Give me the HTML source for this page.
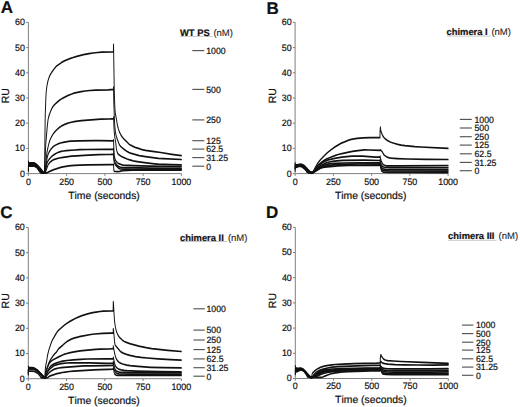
<!DOCTYPE html>
<html><head><meta charset="utf-8"><style>
html,body{margin:0;padding:0;background:#fff;}
svg{display:block;}
text{font-family:"Liberation Sans", sans-serif;fill:#111;stroke:#111;stroke-width:0.2px;text-rendering:geometricPrecision;font-kerning:none;}
.nm{fill:#222;stroke:#222;stroke-width:0.1px;}
</style></head><body>
<svg width="520" height="407" viewBox="0 0 520 407">
<rect width="520" height="407" fill="#fff"/>
<path d="M28.40,22.40 V173.60 H181.40" fill="none" stroke="#808080" stroke-width="1"/>
<line x1="26.10" y1="173.60" x2="28.40" y2="173.60" stroke="#808080" stroke-width="1"/>
<line x1="26.10" y1="148.40" x2="28.40" y2="148.40" stroke="#808080" stroke-width="1"/>
<line x1="26.10" y1="123.20" x2="28.40" y2="123.20" stroke="#808080" stroke-width="1"/>
<line x1="26.10" y1="98.00" x2="28.40" y2="98.00" stroke="#808080" stroke-width="1"/>
<line x1="26.10" y1="72.80" x2="28.40" y2="72.80" stroke="#808080" stroke-width="1"/>
<line x1="26.10" y1="47.60" x2="28.40" y2="47.60" stroke="#808080" stroke-width="1"/>
<line x1="26.10" y1="22.40" x2="28.40" y2="22.40" stroke="#808080" stroke-width="1"/>
<line x1="28.40" y1="173.60" x2="28.40" y2="175.90" stroke="#808080" stroke-width="1"/>
<line x1="66.65" y1="173.60" x2="66.65" y2="175.90" stroke="#808080" stroke-width="1"/>
<line x1="104.90" y1="173.60" x2="104.90" y2="175.90" stroke="#808080" stroke-width="1"/>
<line x1="143.15" y1="173.60" x2="143.15" y2="175.90" stroke="#808080" stroke-width="1"/>
<line x1="181.40" y1="173.60" x2="181.40" y2="175.90" stroke="#808080" stroke-width="1"/>
<line x1="180.00" y1="36.40" x2="213.00" y2="36.40" stroke="#b0b0b0" stroke-width="0.7"/>
<line x1="192.30" y1="50.60" x2="204.30" y2="50.60" stroke="#555" stroke-width="1.15"/>
<line x1="192.30" y1="89.40" x2="204.30" y2="89.40" stroke="#555" stroke-width="1.15"/>
<line x1="192.30" y1="119.90" x2="204.30" y2="119.90" stroke="#555" stroke-width="1.15"/>
<line x1="192.30" y1="140.70" x2="204.30" y2="140.70" stroke="#555" stroke-width="1.15"/>
<line x1="192.30" y1="149.10" x2="204.30" y2="149.10" stroke="#555" stroke-width="1.15"/>
<line x1="192.30" y1="157.60" x2="204.30" y2="157.60" stroke="#555" stroke-width="1.15"/>
<line x1="192.30" y1="166.20" x2="204.30" y2="166.20" stroke="#555" stroke-width="1.15"/>
<g transform="scale(0.55,1)" fill="none" stroke="#111" stroke-width="1.75" stroke-linejoin="round" stroke-linecap="round">
<polyline points="51.64,161.3 52.05,163.0 53.86,162.8 58.73,162.8 61.09,162.9 61.93,162.9 65.13,163.8 68.74,165.6 72.08,167.6 77.65,171.3 79.18,172.5 79.87,172.7 80.57,172.8 80.85,171.1 81.26,163.5 81.82,130.8 82.24,115.6 83.21,100.0 83.77,94.1 84.18,91.3 85.02,87.2 85.85,84.3 87.24,80.9 88.77,78.1 90.30,75.9 92.25,73.9 94.06,72.3 98.51,68.9 101.15,67.0 103.52,65.8 111.45,62.7 115.34,61.4 119.10,60.4 128.14,58.4 133.00,57.5 138.01,56.6 144.97,55.6 151.92,54.7 161.94,53.6 169.03,53.0 177.51,52.5 185.16,52.2 201.30,52.0 206.17,51.9 206.44,44.3 207.70,90.0 208.39,102.1 209.09,109.7 209.64,112.7 210.20,114.9 211.87,119.7 213.26,124.4 214.09,126.5 215.35,129.1 216.88,131.6 218.13,133.2 220.08,135.2 222.58,137.2 225.36,139.1 231.76,142.6 234.82,144.2 237.60,145.2 241.08,146.2 245.67,147.3 250.26,148.2 258.33,149.6 264.45,150.3 280.44,151.7 292.26,152.5 312.29,154.4 329.82,155.7"/>
<polyline points="51.64,169.8 52.05,163.7 53.31,163.5 56.23,163.4 59.15,163.4 61.65,163.5 64.43,164.2 66.10,164.9 68.47,166.1 73.33,169.3 78.06,171.9 79.04,172.6 79.59,172.8 80.85,172.8 81.12,171.2 82.65,150.0 83.35,143.0 85.85,127.0 87.24,120.1 88.22,117.5 89.47,115.0 91.00,112.7 93.22,109.8 94.89,107.9 96.42,106.5 98.51,105.1 100.87,103.7 104.07,102.1 107.97,100.4 111.45,99.0 115.06,97.8 118.82,96.8 123.13,95.7 130.64,94.0 134.53,93.2 141.07,92.3 147.75,91.6 154.70,91.0 163.19,90.5 174.45,90.1 197.13,89.8 206.17,89.4 206.44,87.2 207.00,103.0 207.84,117.5 208.67,125.4 209.64,131.2 210.76,134.6 212.01,137.1 213.26,139.2 215.49,142.5 216.88,144.4 217.99,145.5 219.52,146.5 221.47,147.5 226.89,149.9 231.76,151.7 234.82,152.6 237.18,153.2 240.24,153.7 253.04,155.6 264.58,156.7 281.00,157.9 287.95,158.4 296.30,158.7 329.82,159.5"/>
<polyline points="51.64,170.6 52.05,164.3 53.17,164.1 56.92,164.0 59.01,164.0 61.37,164.1 62.21,164.2 63.88,164.7 65.41,165.2 66.66,165.7 67.91,166.4 73.20,170.0 74.59,170.8 78.90,172.7 79.45,172.8 81.12,172.8 81.54,171.9 82.93,165.5 84.60,155.8 85.57,152.0 86.55,149.1 87.80,146.0 89.19,143.0 90.58,140.5 92.11,138.5 94.06,136.3 96.15,134.4 98.37,132.8 101.43,130.8 104.77,129.0 108.11,127.4 111.31,126.2 116.73,124.6 122.29,123.4 127.72,122.5 134.95,121.7 141.07,121.2 148.03,120.7 171.53,119.6 182.94,119.2 198.79,119.0 206.17,118.7 206.44,117.2 206.72,119.5 207.28,128.2 207.97,133.5 208.81,137.6 210.37,142.4 211.45,148.2 212.56,151.1 213.68,153.0 214.79,154.0 216.60,154.9 219.66,156.0 222.44,156.8 231.06,159.0 234.40,159.7 237.60,160.2 242.05,160.8 252.21,161.8 266.11,162.9 281.00,163.8 287.81,164.2 310.76,164.7 329.82,164.9"/>
<polyline points="51.64,166.0 52.05,165.0 52.89,164.8 58.31,164.6 61.51,164.7 62.76,164.9 65.68,165.9 67.08,166.5 72.78,170.6 74.17,171.3 77.37,172.4 78.76,172.8 79.45,172.8 81.54,172.8 82.10,171.7 82.93,169.1 84.88,160.8 85.85,157.4 87.38,154.5 89.33,152.0 91.00,150.5 93.22,148.8 95.45,147.4 97.68,146.3 99.76,145.5 103.24,144.5 106.58,143.7 109.92,143.0 114.78,142.4 120.21,141.8 124.38,141.4 129.25,141.2 143.85,140.9 170.56,140.6 181.27,140.6 206.17,140.8 206.44,139.8 207.00,148.4 207.56,154.3 207.84,156.0 208.81,158.3 209.50,159.5 210.20,160.4 211.17,161.2 212.56,162.2 213.68,162.8 214.93,163.3 218.68,164.2 221.74,164.8 224.67,165.1 232.59,165.4 242.47,165.7 273.35,166.2 305.20,166.4 329.82,166.5"/>
<polyline points="51.64,168.6 52.05,165.3 53.03,165.2 57.62,164.9 59.70,164.9 62.35,165.1 63.74,165.5 66.24,166.4 67.08,166.8 72.64,171.0 74.03,171.7 77.92,172.8 79.18,172.8 81.68,172.8 81.96,172.7 82.38,171.8 85.71,162.9 86.13,162.3 87.10,161.1 88.91,159.6 90.72,158.4 93.78,156.6 96.01,155.5 98.23,154.6 101.71,153.5 105.33,152.5 108.39,151.8 111.31,151.3 115.20,151.0 120.49,150.7 135.79,150.0 144.83,149.7 158.32,149.5 190.87,149.4 206.17,149.2 206.44,148.4 207.28,158.3 207.56,159.7 208.53,161.7 209.23,162.7 210.06,163.5 213.26,165.6 215.21,166.4 218.13,167.0 220.63,167.3 223.00,167.5 231.34,167.7 273.76,168.1 329.82,168.3"/>
<polyline points="51.64,171.1 52.05,165.8 52.75,165.7 56.78,165.4 59.56,165.4 62.90,165.7 66.80,167.1 67.49,167.5 72.64,171.6 74.03,172.3 76.67,172.8 82.10,172.8 82.65,172.2 83.49,170.8 87.38,165.0 88.50,163.9 90.44,162.6 92.11,161.7 93.92,160.9 95.73,160.2 97.54,159.7 99.34,159.3 101.99,158.8 107.69,158.0 114.78,157.3 121.46,156.8 130.08,156.2 139.68,155.8 153.03,155.3 170.14,154.8 179.32,154.7 194.62,154.5 201.58,154.4 206.17,154.2 206.44,153.7 207.00,159.7 207.28,161.3 207.56,162.3 208.53,163.7 209.92,165.0 213.54,167.1 214.93,167.8 216.74,168.4 218.13,168.8 219.24,169.0 227.59,169.2 240.66,169.3 329.82,169.3"/>
<polyline points="51.64,167.6 52.05,166.3 52.47,166.2 57.90,165.8 62.90,166.1 67.08,167.6 72.64,172.2 73.61,172.7 74.45,172.8 85.16,172.8 86.13,172.6 88.50,171.9 96.56,169.9 106.16,168.1 110.47,167.4 114.51,166.8 119.93,166.3 124.66,165.9 135.09,165.4 145.38,165.1 160.13,164.9 199.77,164.6 206.17,164.5 206.44,164.3 207.00,169.8 207.42,171.2 207.56,171.3 209.92,171.5 213.82,171.6 217.85,171.4 219.38,171.2 222.72,170.7 224.11,170.6 232.18,170.3 240.38,170.1 329.82,170.1"/>
</g>
<path d="M295.10,22.40 V173.60 H448.10" fill="none" stroke="#808080" stroke-width="1"/>
<line x1="292.80" y1="173.60" x2="295.10" y2="173.60" stroke="#808080" stroke-width="1"/>
<line x1="292.80" y1="148.40" x2="295.10" y2="148.40" stroke="#808080" stroke-width="1"/>
<line x1="292.80" y1="123.20" x2="295.10" y2="123.20" stroke="#808080" stroke-width="1"/>
<line x1="292.80" y1="98.00" x2="295.10" y2="98.00" stroke="#808080" stroke-width="1"/>
<line x1="292.80" y1="72.80" x2="295.10" y2="72.80" stroke="#808080" stroke-width="1"/>
<line x1="292.80" y1="47.60" x2="295.10" y2="47.60" stroke="#808080" stroke-width="1"/>
<line x1="292.80" y1="22.40" x2="295.10" y2="22.40" stroke="#808080" stroke-width="1"/>
<line x1="295.10" y1="173.60" x2="295.10" y2="175.90" stroke="#808080" stroke-width="1"/>
<line x1="333.35" y1="173.60" x2="333.35" y2="175.90" stroke="#808080" stroke-width="1"/>
<line x1="371.60" y1="173.60" x2="371.60" y2="175.90" stroke="#808080" stroke-width="1"/>
<line x1="409.85" y1="173.60" x2="409.85" y2="175.90" stroke="#808080" stroke-width="1"/>
<line x1="448.10" y1="173.60" x2="448.10" y2="175.90" stroke="#808080" stroke-width="1"/>
<line x1="446.50" y1="36.10" x2="490.80" y2="36.10" stroke="#b0b0b0" stroke-width="0.7"/>
<line x1="459.80" y1="119.40" x2="471.80" y2="119.40" stroke="#555" stroke-width="1.15"/>
<line x1="459.80" y1="128.00" x2="471.80" y2="128.00" stroke="#555" stroke-width="1.15"/>
<line x1="459.80" y1="136.70" x2="471.80" y2="136.70" stroke="#555" stroke-width="1.15"/>
<line x1="459.80" y1="145.10" x2="471.80" y2="145.10" stroke="#555" stroke-width="1.15"/>
<line x1="459.80" y1="153.80" x2="471.80" y2="153.80" stroke="#555" stroke-width="1.15"/>
<line x1="459.80" y1="162.40" x2="471.80" y2="162.40" stroke="#555" stroke-width="1.15"/>
<line x1="459.80" y1="170.70" x2="471.80" y2="170.70" stroke="#555" stroke-width="1.15"/>
<g transform="scale(0.55,1)" fill="none" stroke="#111" stroke-width="1.75" stroke-linejoin="round" stroke-linecap="round">
<polyline points="536.55,162.8 536.96,164.5 537.52,164.6 538.63,164.8 539.88,164.8 544.89,164.4 547.81,164.3 549.76,164.6 552.40,165.3 554.07,166.1 559.91,169.6 563.11,171.3 565.06,172.5 565.48,172.6 567.70,172.6 568.54,172.2 570.07,171.0 572.85,167.9 577.16,163.7 579.66,161.7 582.58,159.8 589.12,156.0 595.10,152.8 601.92,149.7 609.15,146.9 616.80,144.3 620.42,143.2 624.31,142.3 634.05,140.2 636.83,139.7 641.14,139.2 649.21,138.4 655.33,138.1 660.61,137.8 672.16,137.6 690.80,137.6 691.08,130.8 691.35,128.2 691.63,127.2 692.33,130.4 693.86,133.1 695.67,135.5 698.03,137.5 699.42,138.3 700.95,139.1 702.90,139.9 704.98,140.7 709.44,142.0 714.58,143.0 723.21,144.3 729.46,145.1 736.28,145.7 745.32,146.2 754.36,146.7 764.52,147.0 814.73,148.4"/>
<polyline points="536.55,166.0 536.96,165.2 539.88,165.3 542.39,164.9 546.28,164.7 547.95,164.7 549.20,164.9 551.15,165.5 553.38,166.3 559.50,170.0 564.22,172.3 565.34,172.6 567.84,172.6 568.81,172.2 571.04,170.7 576.05,166.8 578.83,165.1 581.75,163.6 585.64,161.8 589.40,160.4 593.16,159.2 597.75,158.0 609.99,155.3 614.85,154.5 623.76,153.3 634.19,152.1 640.86,151.4 650.88,150.6 662.84,149.9 670.77,150.0 690.80,150.4 691.08,149.7 694.69,151.6 695.39,152.2 697.47,154.4 699.00,155.2 700.67,156.0 702.90,156.8 705.12,157.3 708.46,157.9 711.52,158.2 721.81,158.6 741.15,159.0 774.67,159.3 814.73,159.5"/>
<polyline points="536.55,168.1 536.96,165.8 539.74,165.7 542.53,165.3 546.84,165.2 548.37,165.3 550.18,165.7 553.24,166.9 555.46,168.1 558.94,170.3 561.03,171.3 563.25,172.1 564.09,172.5 568.12,172.6 568.54,172.5 569.09,172.2 571.60,170.3 577.30,166.8 580.50,165.0 583.70,163.6 586.76,162.5 589.54,161.6 592.46,160.8 595.52,160.2 598.72,159.7 608.59,158.4 614.02,157.8 621.11,157.2 630.43,156.6 635.44,156.3 639.61,156.2 658.95,156.2 682.59,157.1 690.80,157.2 691.08,156.2 691.35,156.7 691.91,158.5 693.16,161.1 694.41,162.6 695.80,163.9 697.06,164.6 698.31,165.0 701.09,165.5 703.73,165.8 712.63,165.9 724.18,165.9 814.73,165.5"/>
<polyline points="536.55,164.5 536.96,166.3 539.74,166.1 541.69,165.7 542.53,165.6 547.67,165.5 549.34,165.8 552.54,167.0 553.79,167.6 556.44,169.1 558.35,170.5 560.75,171.7 562.69,172.3 564.36,172.6 568.12,172.6 569.09,172.4 570.21,171.9 579.66,167.0 582.31,165.8 583.84,165.3 587.31,164.3 593.16,162.9 598.30,162.0 604.28,161.4 612.35,160.9 623.34,160.4 662.42,160.2 690.80,160.5 691.08,159.5 691.35,159.9 691.91,161.5 693.30,164.8 693.72,165.3 694.69,166.0 696.08,166.6 697.47,167.0 700.53,167.3 704.15,167.4 708.88,167.6 736.14,167.7 814.73,167.7"/>
<polyline points="536.55,168.8 536.82,167.2 536.96,166.8 537.24,166.7 539.61,166.5 542.25,165.9 548.09,165.9 549.90,166.4 553.51,167.9 556.35,169.5 558.35,171.0 560.89,172.2 562.00,172.5 562.97,172.6 568.40,172.6 569.37,172.4 570.34,172.1 573.54,170.6 579.80,167.9 582.03,167.0 583.84,166.4 586.90,165.7 591.21,164.8 594.69,164.3 598.02,163.9 602.34,163.7 609.71,163.4 624.03,163.0 652.69,162.8 690.80,162.8 691.08,161.8 691.35,162.2 691.91,164.0 692.61,165.6 693.16,166.6 693.72,167.3 695.25,168.3 696.78,168.9 697.75,169.0 700.95,169.3 707.63,169.6 725.15,169.6 814.73,169.7"/>
<polyline points="536.55,167.0 536.96,167.3 537.66,167.3 539.88,166.8 541.55,166.3 542.39,166.1 547.12,166.2 548.23,166.3 550.04,166.8 553.65,168.4 556.35,170.0 558.24,171.5 559.22,172.0 560.75,172.5 561.03,172.6 568.40,172.6 569.79,172.4 571.32,172.0 577.02,170.2 582.72,168.1 585.64,167.3 588.70,166.7 592.32,166.1 595.66,165.7 599.00,165.4 611.79,164.6 623.89,164.3 652.13,164.0 690.80,164.0 691.08,163.0 691.35,163.5 691.77,165.1 692.47,166.9 693.02,168.1 693.58,168.9 694.69,169.6 695.94,170.2 697.20,170.5 698.59,170.6 706.24,170.9 721.40,171.0 814.73,171.1"/>
<polyline points="536.55,171.1 536.96,167.8 537.80,167.5 539.47,167.2 541.55,166.6 542.39,166.4 547.53,166.5 548.37,166.7 549.20,166.9 554.35,169.3 556.44,170.5 558.10,172.0 559.63,172.5 560.33,172.6 568.68,172.6 570.21,172.4 572.85,171.5 577.16,169.5 580.78,168.4 582.86,168.0 584.81,167.7 590.51,167.1 614.30,165.9 633.63,165.4 646.29,165.3 690.80,165.3 691.08,164.3 691.35,164.8 691.77,166.6 692.33,168.2 693.44,170.6 694.14,171.1 695.39,171.6 696.50,171.9 697.75,172.1 706.10,172.3 726.27,172.4 814.73,172.5"/>
</g>
<path d="M28.30,227.50 V378.70 H181.30" fill="none" stroke="#808080" stroke-width="1"/>
<line x1="26.00" y1="378.70" x2="28.30" y2="378.70" stroke="#808080" stroke-width="1"/>
<line x1="26.00" y1="353.50" x2="28.30" y2="353.50" stroke="#808080" stroke-width="1"/>
<line x1="26.00" y1="328.30" x2="28.30" y2="328.30" stroke="#808080" stroke-width="1"/>
<line x1="26.00" y1="303.10" x2="28.30" y2="303.10" stroke="#808080" stroke-width="1"/>
<line x1="26.00" y1="277.90" x2="28.30" y2="277.90" stroke="#808080" stroke-width="1"/>
<line x1="26.00" y1="252.70" x2="28.30" y2="252.70" stroke="#808080" stroke-width="1"/>
<line x1="26.00" y1="227.50" x2="28.30" y2="227.50" stroke="#808080" stroke-width="1"/>
<line x1="28.30" y1="378.70" x2="28.30" y2="381.00" stroke="#808080" stroke-width="1"/>
<line x1="66.55" y1="378.70" x2="66.55" y2="381.00" stroke="#808080" stroke-width="1"/>
<line x1="104.80" y1="378.70" x2="104.80" y2="381.00" stroke="#808080" stroke-width="1"/>
<line x1="143.05" y1="378.70" x2="143.05" y2="381.00" stroke="#808080" stroke-width="1"/>
<line x1="181.30" y1="378.70" x2="181.30" y2="381.00" stroke="#808080" stroke-width="1"/>
<line x1="180.00" y1="241.50" x2="227.30" y2="241.50" stroke="#b0b0b0" stroke-width="0.7"/>
<line x1="193.40" y1="308.80" x2="204.80" y2="308.80" stroke="#555" stroke-width="1.15"/>
<line x1="193.40" y1="330.10" x2="204.80" y2="330.10" stroke="#555" stroke-width="1.15"/>
<line x1="193.40" y1="340.00" x2="204.80" y2="340.00" stroke="#555" stroke-width="1.15"/>
<line x1="193.40" y1="349.60" x2="204.80" y2="349.60" stroke="#555" stroke-width="1.15"/>
<line x1="193.40" y1="358.90" x2="204.80" y2="358.90" stroke="#555" stroke-width="1.15"/>
<line x1="193.40" y1="367.70" x2="204.80" y2="367.70" stroke="#555" stroke-width="1.15"/>
<line x1="193.40" y1="376.20" x2="204.80" y2="376.20" stroke="#555" stroke-width="1.15"/>
<g transform="scale(0.55,1)" fill="none" stroke="#111" stroke-width="1.75" stroke-linejoin="round" stroke-linecap="round">
<polyline points="51.45,366.4 51.87,367.6 53.96,367.5 55.49,367.5 58.55,367.7 60.63,367.9 61.61,368.0 64.25,368.7 67.03,369.7 70.51,371.4 78.16,375.8 81.22,377.7 82.06,377.9 82.19,370.5 82.75,367.0 83.31,365.0 84.56,362.1 86.51,355.1 88.17,351.3 89.57,348.7 92.49,343.9 93.88,341.8 95.13,340.2 96.52,338.8 102.08,333.5 104.03,331.8 105.70,330.6 106.95,330.0 117.38,325.0 120.30,323.8 124.76,322.2 130.46,320.3 136.72,318.5 143.39,316.8 149.10,315.6 156.33,314.3 162.87,313.3 168.29,312.6 174.69,312.1 181.78,311.5 187.90,311.2 201.67,311.0 205.71,310.9 205.98,301.6 206.26,303.0 208.07,320.0 209.18,325.0 210.02,327.5 210.99,330.0 211.83,331.6 212.94,333.2 214.19,334.7 215.58,336.0 216.69,336.9 218.09,337.8 221.84,339.8 223.65,340.7 226.01,341.5 228.80,342.2 233.25,343.1 237.42,343.9 252.44,346.2 265.79,347.7 275.81,348.6 288.47,349.4 304.88,350.3 329.64,351.5"/>
<polyline points="51.45,369.9 51.87,368.0 52.43,367.9 55.21,367.9 59.24,368.1 61.61,368.4 63.83,368.9 64.95,369.2 67.73,370.2 80.25,377.2 81.36,377.8 82.06,377.9 82.06,374.9 82.33,373.2 82.75,371.8 83.58,370.7 85.25,367.9 88.45,363.4 89.84,361.7 90.96,360.5 97.35,355.2 98.75,354.2 102.72,352.0 106.40,348.9 108.34,347.9 112.65,345.9 116.83,343.7 120.72,342.0 123.64,340.9 126.29,340.1 128.65,339.4 131.99,338.7 135.74,337.9 139.92,337.3 144.37,336.7 149.10,336.1 165.23,334.5 171.63,334.0 186.79,333.4 201.39,333.2 205.71,333.1 205.98,328.6 206.26,329.4 206.68,331.5 208.35,341.7 208.91,344.0 209.32,344.8 210.02,345.6 210.71,346.1 218.64,351.2 219.48,351.7 220.73,352.1 223.93,353.1 229.91,354.4 236.17,355.4 246.32,356.6 256.20,357.4 267.74,358.0 287.35,358.8 310.02,359.6 329.64,360.1"/>
<polyline points="51.45,373.7 51.87,368.3 53.68,368.2 56.32,368.3 58.97,368.4 61.33,368.6 64.53,369.4 67.59,370.5 70.79,372.2 75.38,374.9 80.25,377.4 81.36,377.8 82.06,377.9 82.61,374.9 83.45,372.9 87.76,365.6 88.87,364.2 89.98,363.1 91.23,362.3 92.49,361.5 94.16,360.7 95.96,360.0 104.87,357.3 110.43,355.8 113.77,355.0 117.52,354.2 121.70,353.5 125.73,352.9 134.77,351.9 145.62,350.9 159.39,350.1 173.85,349.4 182.34,349.2 198.47,349.0 205.71,348.7 205.98,346.2 208.49,353.7 210.16,356.9 211.83,359.2 213.91,360.9 216.42,362.2 219.20,363.2 222.81,364.0 230.74,365.1 236.58,365.7 245.21,366.2 267.74,367.2 274.14,367.4 296.95,367.7 329.64,367.9"/>
<polyline points="51.45,370.6 51.87,368.5 54.38,368.4 58.41,368.5 61.33,368.8 62.86,369.1 64.95,369.7 67.73,370.7 71.21,372.6 75.24,375.1 80.25,377.5 81.36,377.8 82.06,377.9 82.47,377.4 83.45,374.9 85.39,372.2 86.78,370.7 89.01,368.6 90.54,367.3 91.93,366.3 92.90,365.7 94.16,365.2 97.35,364.1 101.94,363.1 107.37,362.0 113.63,361.2 121.70,360.5 133.24,359.8 146.45,359.3 158.83,359.0 192.21,358.9 205.71,358.8 205.98,357.3 206.26,357.7 208.49,363.8 209.60,365.5 210.85,366.8 212.24,367.8 214.89,368.8 217.25,369.4 220.17,369.9 225.46,370.4 231.02,370.7 247.85,371.2 292.08,371.7 329.64,371.9"/>
<polyline points="51.45,372.4 51.87,368.7 53.96,368.6 57.16,368.6 59.38,368.8 61.61,369.0 64.67,369.8 67.59,370.8 71.34,372.8 75.24,375.2 80.25,377.5 81.36,377.9 82.06,377.9 82.33,377.8 82.75,377.4 84.28,374.7 86.51,372.1 88.45,370.3 90.54,368.9 93.88,367.4 96.80,366.2 98.88,365.5 101.94,364.9 107.09,364.1 110.85,363.6 114.46,363.3 121.97,363.0 127.68,362.8 162.45,362.8 194.02,363.3 205.71,363.3 205.98,361.6 208.21,367.9 208.63,368.6 209.60,369.7 210.71,370.6 211.83,371.1 214.33,371.7 216.97,372.1 227.40,372.4 242.15,372.6 286.10,372.8 329.64,372.9"/>
<polyline points="51.45,374.9 51.73,369.9 51.87,368.8 52.15,368.8 55.63,368.8 59.80,369.0 61.89,369.2 64.95,370.0 67.17,370.8 68.15,371.2 71.62,373.2 74.68,375.1 75.52,375.6 80.11,377.5 81.22,377.8 82.06,377.9 82.47,377.8 82.89,377.6 84.70,375.8 87.90,373.5 89.84,372.4 92.35,371.3 95.69,370.1 98.88,369.2 102.22,368.6 106.81,368.0 111.54,367.6 116.55,367.3 152.57,365.9 164.40,365.8 192.63,365.6 205.71,365.3 205.98,363.8 207.93,369.8 208.35,370.7 208.91,371.4 210.16,372.4 211.41,373.0 213.63,373.5 216.28,373.8 222.12,374.0 236.31,374.1 289.44,374.3 329.64,374.4"/>
<polyline points="51.45,373.2 51.87,371.1 58.27,371.1 62.58,371.4 65.78,372.3 68.15,373.1 72.18,375.6 74.82,377.7 76.77,377.9 83.17,377.9 86.51,377.6 87.34,377.4 89.15,376.5 90.40,376.2 94.02,375.3 98.19,374.6 103.61,373.7 108.62,373.1 113.21,372.5 118.50,372.1 125.87,371.5 133.66,371.2 170.93,369.9 181.64,369.6 197.92,369.4 204.32,369.2 205.71,369.1 205.98,367.9 207.24,371.8 207.79,373.0 208.35,373.9 209.18,374.4 210.44,374.9 211.55,375.1 213.36,375.3 218.22,375.4 329.64,375.4"/>
</g>
<path d="M295.30,227.30 V378.50 H448.30" fill="none" stroke="#808080" stroke-width="1"/>
<line x1="293.00" y1="378.50" x2="295.30" y2="378.50" stroke="#808080" stroke-width="1"/>
<line x1="293.00" y1="353.30" x2="295.30" y2="353.30" stroke="#808080" stroke-width="1"/>
<line x1="293.00" y1="328.10" x2="295.30" y2="328.10" stroke="#808080" stroke-width="1"/>
<line x1="293.00" y1="302.90" x2="295.30" y2="302.90" stroke="#808080" stroke-width="1"/>
<line x1="293.00" y1="277.70" x2="295.30" y2="277.70" stroke="#808080" stroke-width="1"/>
<line x1="293.00" y1="252.50" x2="295.30" y2="252.50" stroke="#808080" stroke-width="1"/>
<line x1="293.00" y1="227.30" x2="295.30" y2="227.30" stroke="#808080" stroke-width="1"/>
<line x1="295.30" y1="378.50" x2="295.30" y2="380.80" stroke="#808080" stroke-width="1"/>
<line x1="333.55" y1="378.50" x2="333.55" y2="380.80" stroke="#808080" stroke-width="1"/>
<line x1="371.80" y1="378.50" x2="371.80" y2="380.80" stroke="#808080" stroke-width="1"/>
<line x1="410.05" y1="378.50" x2="410.05" y2="380.80" stroke="#808080" stroke-width="1"/>
<line x1="448.30" y1="378.50" x2="448.30" y2="380.80" stroke="#808080" stroke-width="1"/>
<line x1="448.10" y1="240.30" x2="496.50" y2="240.30" stroke="#b0b0b0" stroke-width="0.7"/>
<line x1="462.00" y1="325.10" x2="473.40" y2="325.10" stroke="#555" stroke-width="1.15"/>
<line x1="462.00" y1="333.60" x2="473.40" y2="333.60" stroke="#555" stroke-width="1.15"/>
<line x1="462.00" y1="342.20" x2="473.40" y2="342.20" stroke="#555" stroke-width="1.15"/>
<line x1="462.00" y1="350.10" x2="473.40" y2="350.10" stroke="#555" stroke-width="1.15"/>
<line x1="462.00" y1="358.80" x2="473.40" y2="358.80" stroke="#555" stroke-width="1.15"/>
<line x1="462.00" y1="367.10" x2="473.40" y2="367.10" stroke="#555" stroke-width="1.15"/>
<line x1="462.00" y1="375.30" x2="473.40" y2="375.30" stroke="#555" stroke-width="1.15"/>
<g transform="scale(0.55,1)" fill="none" stroke="#111" stroke-width="1.75" stroke-linejoin="round" stroke-linecap="round">
<polyline points="536.91,365.9 537.33,367.9 538.86,368.0 542.06,368.4 546.92,368.2 551.51,369.2 556.10,371.7 561.25,375.0 565.14,377.2 566.96,377.4 566.96,375.7 567.37,374.4 567.93,373.3 568.48,372.8 569.46,372.4 571.68,371.1 576.83,369.0 581.56,367.6 586.15,366.6 591.57,365.8 596.86,365.3 603.67,364.8 609.10,364.5 616.05,364.3 642.90,363.7 684.62,363.2 691.16,362.9 691.44,358.3 692.00,355.7 692.27,355.0 692.55,354.8 692.83,355.0 693.66,356.1 695.19,357.5 696.45,358.4 697.56,359.1 699.09,359.6 700.62,360.0 702.71,360.3 705.21,360.6 714.53,361.0 729.13,361.5 768.08,362.3 815.09,363.4"/>
<polyline points="536.91,370.9 537.33,368.7 538.58,368.7 540.11,368.9 542.19,368.9 544.84,368.7 546.78,368.6 549.84,369.1 551.65,369.7 553.74,370.7 556.38,372.3 559.30,374.4 561.95,375.8 565.14,377.2 566.96,377.4 570.15,374.9 571.13,374.2 574.46,372.5 577.80,371.3 580.86,370.4 584.90,369.6 589.35,368.8 595.61,368.0 599.64,367.5 603.95,367.2 615.77,366.7 648.32,365.9 676.28,365.4 686.43,365.3 691.16,365.1 691.44,362.1 691.86,361.8 692.41,361.6 692.69,361.6 693.11,361.8 694.36,362.6 694.92,362.9 697.28,363.3 699.92,363.7 705.35,364.1 718.14,364.6 734.14,364.8 759.04,365.0 787.27,365.0 815.09,364.9"/>
<polyline points="536.91,368.4 537.33,369.5 541.08,369.6 542.33,369.5 544.00,369.2 546.65,369.0 548.87,369.3 550.54,369.7 552.07,370.2 554.02,371.2 556.94,373.1 558.75,374.6 560.28,375.5 561.95,376.2 565.14,377.3 566.95,377.4 567.51,377.3 568.20,377.0 575.02,373.5 578.22,372.4 581.14,371.6 584.06,371.0 588.51,370.2 591.99,369.7 597.55,369.3 603.95,369.0 622.45,368.5 665.71,368.0 691.16,367.9 691.44,365.4 691.86,365.6 694.36,367.4 695.33,367.9 699.09,368.4 703.26,368.7 716.89,368.9 731.50,368.9 781.01,368.9 815.09,368.7"/>
<polyline points="536.91,373.5 537.33,370.1 540.80,370.1 542.33,369.8 543.72,369.5 545.39,369.4 547.06,369.3 548.87,369.5 549.98,369.7 551.65,370.3 553.60,371.2 556.94,373.5 558.75,375.1 560.00,375.8 561.67,376.4 565.14,377.3 567.09,377.4 567.93,377.2 569.04,376.9 571.96,375.8 576.69,373.9 581.00,372.7 583.92,372.0 586.98,371.5 590.88,370.9 594.49,370.5 600.06,370.1 606.59,369.8 615.50,369.5 623.84,369.3 666.12,368.7 691.16,368.7 691.44,366.4 691.86,366.6 694.50,368.9 695.33,369.4 697.14,369.8 699.09,370.1 701.18,370.3 703.26,370.4 716.48,370.6 731.36,370.7 781.01,370.7 815.09,370.4"/>
<polyline points="536.91,369.9 537.33,370.7 540.66,370.6 543.59,369.9 544.70,369.7 547.20,369.7 548.73,369.7 549.43,369.8 552.49,370.9 553.74,371.5 557.08,373.9 558.75,375.6 559.72,376.1 560.83,376.5 562.22,376.8 565.14,377.3 566.67,377.4 567.65,377.3 568.76,377.2 572.24,376.4 573.77,375.9 578.22,374.3 583.64,373.1 586.70,372.5 591.15,371.8 594.49,371.4 597.69,371.1 603.26,370.7 609.10,370.4 625.37,370.0 666.54,369.5 691.16,369.4 691.44,367.4 691.86,367.6 692.69,368.3 694.50,370.3 695.33,370.9 697.00,371.3 698.95,371.6 702.98,371.9 716.20,372.1 731.22,372.2 781.01,372.2 815.09,371.9"/>
<polyline points="536.91,374.5 537.33,371.3 540.53,371.1 544.00,370.1 545.95,370.0 548.87,370.0 549.84,370.2 552.90,371.3 553.74,371.7 557.08,374.3 558.61,375.9 559.86,376.6 561.25,376.9 565.01,377.3 568.90,377.4 571.54,377.1 575.16,376.6 576.69,376.2 581.14,374.8 587.82,373.5 594.91,372.5 602.00,371.8 608.54,371.4 616.19,371.1 636.08,370.6 666.82,370.2 691.16,370.2 691.44,368.4 692.00,368.8 694.50,371.8 695.33,372.4 697.00,372.8 698.81,373.1 702.57,373.4 730.38,373.6 780.87,373.6 815.09,373.5"/>
<polyline points="536.91,371.9 540.39,371.7 543.86,370.5 548.18,370.2 549.15,370.2 552.90,371.5 553.74,372.0 557.08,374.6 558.47,376.3 559.16,376.7 560.00,377.1 560.69,377.2 564.59,377.4 583.28,377.4 584.62,377.3 586.84,377.0 591.57,375.9 598.11,374.5 600.75,374.0 607.29,373.2 619.39,372.1 624.68,371.8 632.88,371.6 662.51,371.1 673.36,370.9 691.16,370.9 691.44,369.2 691.86,369.5 694.36,372.9 695.19,373.6 696.03,373.8 697.98,374.1 701.73,374.4 712.72,374.6 726.91,374.7 815.09,374.7"/>
</g>
<g class="tx"><text transform="translate(24.90,176.50) scale(0.955,1)" font-size="9.3" text-anchor="end">0</text>
<text transform="translate(24.90,151.30) scale(0.955,1)" font-size="9.3" text-anchor="end">10</text>
<text transform="translate(24.90,126.10) scale(0.955,1)" font-size="9.3" text-anchor="end">20</text>
<text transform="translate(24.90,100.90) scale(0.955,1)" font-size="9.3" text-anchor="end">30</text>
<text transform="translate(24.90,75.70) scale(0.955,1)" font-size="9.3" text-anchor="end">40</text>
<text transform="translate(24.90,50.50) scale(0.955,1)" font-size="9.3" text-anchor="end">50</text>
<text transform="translate(24.90,25.30) scale(0.955,1)" font-size="9.3" text-anchor="end">60</text>
<text transform="translate(28.40,184.50) scale(0.955,1)" font-size="9.3" text-anchor="middle">0</text>
<text transform="translate(66.65,184.50) scale(0.955,1)" font-size="9.3" text-anchor="middle">250</text>
<text transform="translate(104.90,184.50) scale(0.955,1)" font-size="9.3" text-anchor="middle">500</text>
<text transform="translate(143.15,184.50) scale(0.955,1)" font-size="9.3" text-anchor="middle">750</text>
<text transform="translate(181.40,184.50) scale(0.955,1)" font-size="9.3" text-anchor="middle">1000</text>
<text x="104.00" y="198.50" font-size="10.4" text-anchor="middle">Time (seconds)</text>
<text transform="translate(9.00,103.30) rotate(-90)" font-size="10.5">RU</text>
<text x="0.80" y="13.20" font-size="17.0" font-weight="bold">A</text>
<text x="180.00" y="35.50" font-size="9.4" font-weight="bold">WT PS</text>
<text class="nm" x="213.40" y="35.50" font-size="9.5">(nM)</text>
<text transform="translate(206.20,53.90) scale(0.97,1)" font-size="9.0">1000</text>
<text transform="translate(206.20,92.70) scale(0.97,1)" font-size="9.0">500</text>
<text transform="translate(206.20,123.20) scale(0.97,1)" font-size="9.0">250</text>
<text transform="translate(206.20,144.00) scale(0.97,1)" font-size="9.0">125</text>
<text transform="translate(206.20,152.40) scale(0.97,1)" font-size="9.0">62.5</text>
<text transform="translate(206.20,160.90) scale(0.97,1)" font-size="9.0">31.25</text>
<text transform="translate(206.20,169.50) scale(0.97,1)" font-size="9.0">0</text>
<text transform="translate(291.60,176.50) scale(0.955,1)" font-size="9.3" text-anchor="end">0</text>
<text transform="translate(291.60,151.30) scale(0.955,1)" font-size="9.3" text-anchor="end">10</text>
<text transform="translate(291.60,126.10) scale(0.955,1)" font-size="9.3" text-anchor="end">20</text>
<text transform="translate(291.60,100.90) scale(0.955,1)" font-size="9.3" text-anchor="end">30</text>
<text transform="translate(291.60,75.70) scale(0.955,1)" font-size="9.3" text-anchor="end">40</text>
<text transform="translate(291.60,50.50) scale(0.955,1)" font-size="9.3" text-anchor="end">50</text>
<text transform="translate(291.60,25.30) scale(0.955,1)" font-size="9.3" text-anchor="end">60</text>
<text transform="translate(295.10,184.50) scale(0.955,1)" font-size="9.3" text-anchor="middle">0</text>
<text transform="translate(333.35,184.50) scale(0.955,1)" font-size="9.3" text-anchor="middle">250</text>
<text transform="translate(371.60,184.50) scale(0.955,1)" font-size="9.3" text-anchor="middle">500</text>
<text transform="translate(409.85,184.50) scale(0.955,1)" font-size="9.3" text-anchor="middle">750</text>
<text transform="translate(448.10,184.50) scale(0.955,1)" font-size="9.3" text-anchor="middle">1000</text>
<text x="370.70" y="198.50" font-size="10.4" text-anchor="middle">Time (seconds)</text>
<text transform="translate(275.70,103.30) rotate(-90)" font-size="10.5">RU</text>
<text x="266.40" y="13.50" font-size="17.0" font-weight="bold">B</text>
<text x="446.50" y="35.20" font-size="9.4" font-weight="bold">chimera I</text>
<text class="nm" x="491.40" y="35.20" font-size="9.5">(nM)</text>
<text transform="translate(474.50,122.70) scale(0.97,1)" font-size="9.0">1000</text>
<text transform="translate(474.50,131.30) scale(0.97,1)" font-size="9.0">500</text>
<text transform="translate(474.50,140.00) scale(0.97,1)" font-size="9.0">250</text>
<text transform="translate(474.50,148.40) scale(0.97,1)" font-size="9.0">125</text>
<text transform="translate(474.50,157.10) scale(0.97,1)" font-size="9.0">62.5</text>
<text transform="translate(474.50,165.70) scale(0.97,1)" font-size="9.0">31.25</text>
<text transform="translate(474.50,174.00) scale(0.97,1)" font-size="9.0">0</text>
<text transform="translate(24.80,381.60) scale(0.955,1)" font-size="9.3" text-anchor="end">0</text>
<text transform="translate(24.80,356.40) scale(0.955,1)" font-size="9.3" text-anchor="end">10</text>
<text transform="translate(24.80,331.20) scale(0.955,1)" font-size="9.3" text-anchor="end">20</text>
<text transform="translate(24.80,306.00) scale(0.955,1)" font-size="9.3" text-anchor="end">30</text>
<text transform="translate(24.80,280.80) scale(0.955,1)" font-size="9.3" text-anchor="end">40</text>
<text transform="translate(24.80,255.60) scale(0.955,1)" font-size="9.3" text-anchor="end">50</text>
<text transform="translate(24.80,230.40) scale(0.955,1)" font-size="9.3" text-anchor="end">60</text>
<text transform="translate(28.30,389.60) scale(0.955,1)" font-size="9.3" text-anchor="middle">0</text>
<text transform="translate(66.55,389.60) scale(0.955,1)" font-size="9.3" text-anchor="middle">250</text>
<text transform="translate(104.80,389.60) scale(0.955,1)" font-size="9.3" text-anchor="middle">500</text>
<text transform="translate(143.05,389.60) scale(0.955,1)" font-size="9.3" text-anchor="middle">750</text>
<text transform="translate(181.30,389.60) scale(0.955,1)" font-size="9.3" text-anchor="middle">1000</text>
<text x="103.90" y="403.60" font-size="10.4" text-anchor="middle">Time (seconds)</text>
<text transform="translate(8.90,308.40) rotate(-90)" font-size="10.5">RU</text>
<text x="0.30" y="218.10" font-size="17.0" font-weight="bold">C</text>
<text x="180.00" y="240.60" font-size="9.4" font-weight="bold">chimera II</text>
<text class="nm" x="227.90" y="240.60" font-size="9.5">(nM)</text>
<text transform="translate(206.50,312.10) scale(0.97,1)" font-size="9.0">1000</text>
<text transform="translate(206.50,333.40) scale(0.97,1)" font-size="9.0">500</text>
<text transform="translate(206.50,343.30) scale(0.97,1)" font-size="9.0">250</text>
<text transform="translate(206.50,352.90) scale(0.97,1)" font-size="9.0">125</text>
<text transform="translate(206.50,362.20) scale(0.97,1)" font-size="9.0">62.5</text>
<text transform="translate(206.50,371.00) scale(0.97,1)" font-size="9.0">31.25</text>
<text transform="translate(206.50,379.50) scale(0.97,1)" font-size="9.0">0</text>
<text transform="translate(291.80,381.40) scale(0.955,1)" font-size="9.3" text-anchor="end">0</text>
<text transform="translate(291.80,356.20) scale(0.955,1)" font-size="9.3" text-anchor="end">10</text>
<text transform="translate(291.80,331.00) scale(0.955,1)" font-size="9.3" text-anchor="end">20</text>
<text transform="translate(291.80,305.80) scale(0.955,1)" font-size="9.3" text-anchor="end">30</text>
<text transform="translate(291.80,280.60) scale(0.955,1)" font-size="9.3" text-anchor="end">40</text>
<text transform="translate(291.80,255.40) scale(0.955,1)" font-size="9.3" text-anchor="end">50</text>
<text transform="translate(291.80,230.20) scale(0.955,1)" font-size="9.3" text-anchor="end">60</text>
<text transform="translate(295.30,389.40) scale(0.955,1)" font-size="9.3" text-anchor="middle">0</text>
<text transform="translate(333.55,389.40) scale(0.955,1)" font-size="9.3" text-anchor="middle">250</text>
<text transform="translate(371.80,389.40) scale(0.955,1)" font-size="9.3" text-anchor="middle">500</text>
<text transform="translate(410.05,389.40) scale(0.955,1)" font-size="9.3" text-anchor="middle">750</text>
<text transform="translate(448.30,389.40) scale(0.955,1)" font-size="9.3" text-anchor="middle">1000</text>
<text x="370.90" y="403.40" font-size="10.4" text-anchor="middle">Time (seconds)</text>
<text transform="translate(275.90,308.20) rotate(-90)" font-size="10.5">RU</text>
<text x="265.90" y="217.90" font-size="17.0" font-weight="bold">D</text>
<text x="448.10" y="239.40" font-size="9.4" font-weight="bold">chimera III</text>
<text class="nm" x="498.60" y="239.40" font-size="9.5">(nM)</text>
<text transform="translate(476.00,328.40) scale(0.97,1)" font-size="9.0">1000</text>
<text transform="translate(476.00,336.90) scale(0.97,1)" font-size="9.0">500</text>
<text transform="translate(476.00,345.50) scale(0.97,1)" font-size="9.0">250</text>
<text transform="translate(476.00,353.40) scale(0.97,1)" font-size="9.0">125</text>
<text transform="translate(476.00,362.10) scale(0.97,1)" font-size="9.0">62.5</text>
<text transform="translate(476.00,370.40) scale(0.97,1)" font-size="9.0">31.25</text>
<text transform="translate(476.00,378.60) scale(0.97,1)" font-size="9.0">0</text></g>
</svg>
</body></html>
